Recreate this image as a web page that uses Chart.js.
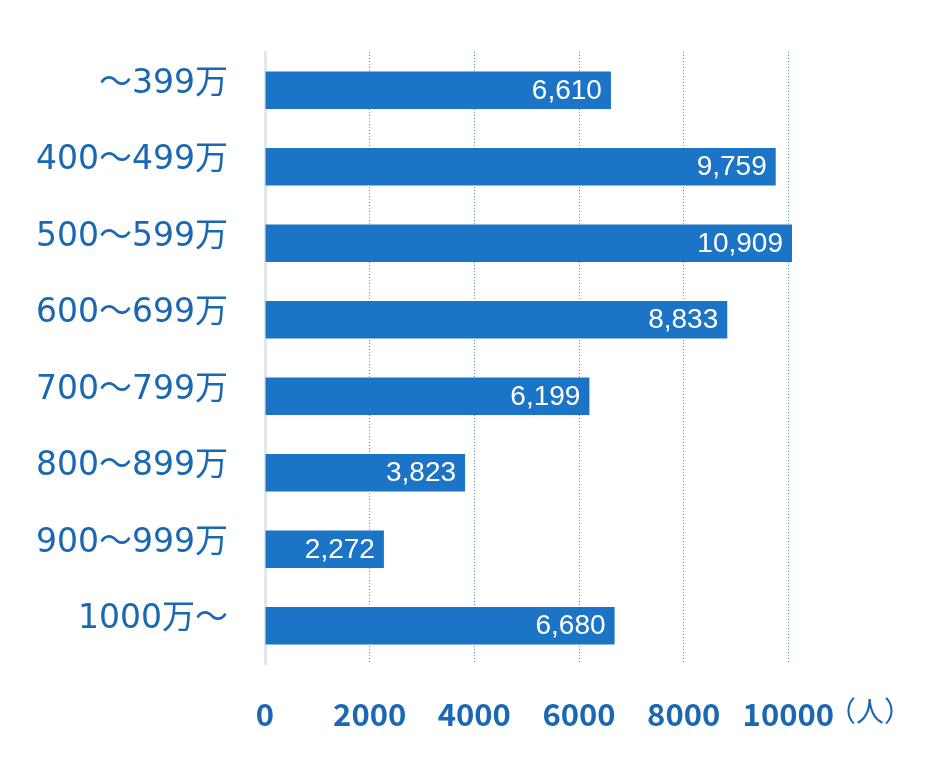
<!DOCTYPE html>
<html>
<head>
<meta charset="utf-8">
<script src="https://cdn.jsdelivr.net/npm/chart.js@4"></script>
<style>
  html, body { margin: 0; padding: 0; background: #fff; }
  #wrap { width: 930px; height: 765px; }
</style>
</head>
<body>
<div id="wrap"><canvas id="chart"></canvas></div>
<script>
// income brackets and headcounts
const categories = ['～399万', '400～499万', '500～599万', '600～699万', '700～799万', '800～899万', '900～999万', '1000万～'];
const people = [6610, 9759, 10909, 8833, 6199, 3823, 2272, 6680];
const tickValues = [0, 2000, 4000, 6000, 8000, 10000];
const unitLabel = '（人）';

const barColor = '#1b74c5';
const textColor = '#1a68b3';
const tickFont = { family: "'Noto Sans CJK JP', sans-serif", size: 31, weight: 'bold' };

// white value labels inside the bar ends + unit label after last tick
const barLabels = {
  id: 'barLabels',
  afterDatasetsDraw(chart) {
    const ctx = chart.ctx;
    const meta = chart.getDatasetMeta(0);
    const right = chart.chartArea.right;
    ctx.save();
    ctx.fillStyle = '#ffffff';
    ctx.font = "28px 'Liberation Sans', Arial, sans-serif";
    ctx.textAlign = 'right';
    ctx.textBaseline = 'middle';
    meta.data.forEach((bar, i) => {
      ctx.fillText(people[i].toLocaleString('en-US'), Math.min(bar.x, right) - 9, bar.y + 1);
    });

    const x = chart.scales.x;
    ctx.font = `bold ${tickFont.size}px ${tickFont.family}`;
    const w = ctx.measureText('10000').width;
    ctx.fillStyle = textColor;
    ctx.textAlign = 'left';
    ctx.font = "28px 'Noto Sans CJK JP', sans-serif";
    ctx.fillText(unitLabel, x.getPixelForValue(10000) + w / 2 - 6, 711);
    ctx.restore();
  }
};

new Chart(document.getElementById('chart'), {
  type: 'bar',
  data: {
    labels: categories,
    datasets: [{
      data: people,
      backgroundColor: barColor,
      borderWidth: 0,
      categoryPercentage: 1,
      barPercentage: 0.49
    }]
  },
  options: {
    indexAxis: 'y',
    responsive: true,
    maintainAspectRatio: false,
    animation: false,
    layout: { padding: { top: 52, right: 138, bottom: 0, left: 0 } },
    plugins: {
      legend: { display: false },
      tooltip: { enabled: false }
    },
    scales: {
      x: {
        min: 0,
        max: 10070,
        afterBuildTicks: (scale) => {
          scale.ticks = tickValues.map(v => ({ value: v }));
        },
        afterFit: (scale) => { scale.height = 101; },
        grid: {
          drawTicks: false,
          color: (c) => (c.tick && c.tick.value > 0) ? '#4d8fd0' : 'rgba(0,0,0,0)',
          lineWidth: 1
        },
        border: { display: false, dash: [1, 2] },
        ticks: {
          padding: 32,
          color: textColor,
          font: tickFont,
          maxRotation: 0,
          autoSkip: false,
          callback: (v) => String(v)
        }
      },
      y: {
        afterFit: (scale) => {
          scale.width = 265;
          scale.paddingTop = 0;
          scale.paddingBottom = 0;
        },
        grid: { display: false, drawTicks: false },
        border: { display: true, color: '#e3e6ea', width: 3 },
        ticks: {
          padding: 37,
          labelOffset: -6,
          color: textColor,
          font: { family: "'DejaVu Sans', 'Noto Sans CJK JP', sans-serif", size: 33 }
        }
      }
    }
  },
  plugins: [barLabels]
});
</script>
</body>
</html>
